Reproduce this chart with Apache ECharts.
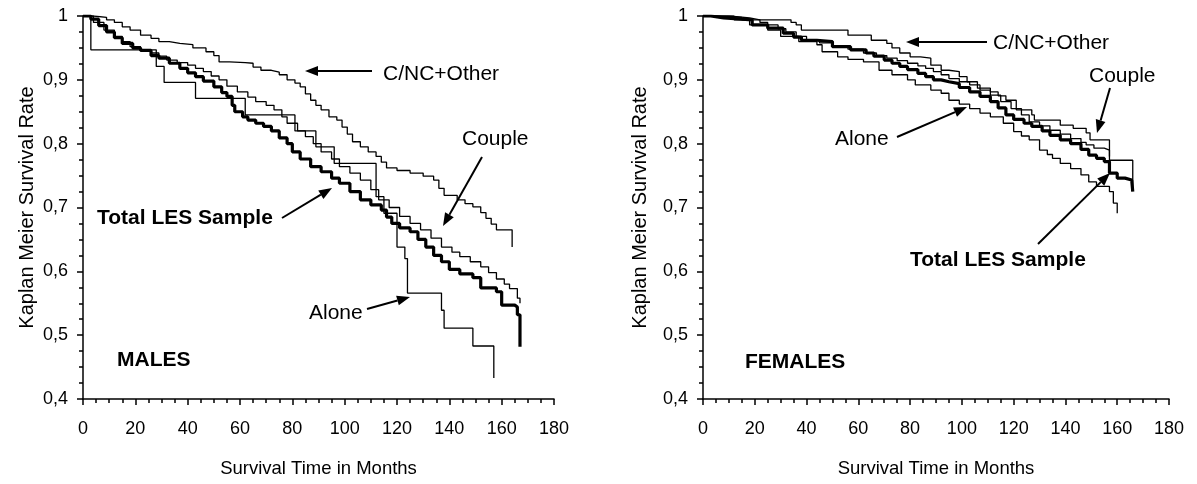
<!DOCTYPE html>
<html lang="en">
<head>
    <meta charset="UTF-8">
    <title>Kaplan Meier</title>
    <script type="text/javascript" src="https://cdn.jsdelivr.net/npm/echarts@6/dist/echarts.min.js"></script>
    <style>
        body { margin: 0; background: #fff; }
    </style>
</head>
<body>
<div id="main" style="width: 1197px;height:484px;"></div>
<script>
    // tick labels
    var monthTicks = [0, 20, 40, 60, 80, 100, 120, 140, 160, 180];
    var rateTicks = [0.4, 0.5, 0.6, 0.7, 0.8, 0.9, 1];

    // males, [month, survival]
    var malesCnc = [[0,1],[4,0.998],[9,0.994],[12,0.99],[15,0.983],[18,0.978],[22,0.970],[26,0.965],[29,0.96],[33,0.957],
        [37,0.955],[42,0.950],[47,0.944],[50,0.938],[52,0.928],[56,0.927],[62,0.926],[65,0.92],[68,0.915],[72,0.912],
        [75,0.908],[78,0.9],[81,0.895],[83,0.889],[85,0.878],[87,0.868],[89,0.86],[91,0.853],[94,0.842],[97,0.837],
        [99,0.826],[101,0.815],[103,0.803],[106,0.795],[109,0.787],[112,0.78],[114,0.771],[116,0.762],[120,0.758],
        [125,0.754],[130,0.749],[134,0.743],[136,0.73],[138,0.719],[143,0.712],[146,0.706],[149,0.701],[152,0.692],
        [154,0.683],[156,0.674],[158,0.665],[164,0.638]];
    var malesCouple = [[0,1],[4,0.99],[8,0.978],[12,0.968],[15,0.96],[18,0.952],[22,0.947],[26,0.942],[29,0.937],
        [32,0.931],[36,0.927],[40,0.923],[43,0.918],[46,0.913],[49,0.906],[52,0.9],[55,0.89],[59,0.881],[63,0.873],
        [66,0.866],[70,0.86],[73,0.853],[76,0.842],[78,0.832],[82,0.82],[85,0.811],[88,0.8],[91,0.787],[95,0.776],
        [98,0.764],[102,0.754],[106,0.743],[110,0.728],[113,0.712],[117,0.7],[121,0.686],[125,0.675],[129,0.665],
        [133,0.652],[137,0.638],[141,0.63],[144,0.623],[148,0.615],[152,0.607],[155,0.598],[158,0.588],[161,0.58],
        [163,0.573],[166,0.558],[167,0.55]];
    var malesTotal = [[0,1],[3,0.995],[6,0.985],[9,0.975],[12,0.966],[15,0.957],[19,0.950],[22,0.946],[26,0.938],
        [29,0.934],[33,0.926],[37,0.918],[40,0.911],[43,0.905],[46,0.898],[50,0.889],[53,0.88],[55,0.874],[57,0.86],
        [58,0.85],[61,0.842],[63,0.837],[66,0.832],[69,0.827],[72,0.82],[75,0.809],[78,0.8],[80,0.787],[83,0.776],
        [87,0.764],[91,0.756],[95,0.746],[98,0.738],[102,0.725],[106,0.712],[110,0.704],[114,0.696],[116,0.685],
        [118,0.675],[121,0.668],[125,0.662],[128,0.65],[131,0.638],[134,0.625],[137,0.615],[140,0.603],[144,0.596],
        [149,0.59],[152,0.574],[158,0.568],[160,0.547],[165,0.544],[166,0.532],[167,0.482]];
    var malesAlone = [[0,1],[3,0.947],[28,0.921],[31,0.896],[43,0.871],[62,0.845],[81,0.82],[89,0.795],[96,0.769],
        [112,0.717],[115,0.691],[120,0.638],[123,0.62],[124,0.566],[137,0.539],[138,0.511],[149,0.483],[157,0.433]];

    // females, [month, survival]
    var femalesCnc = [[0,1],[5,0.998],[15,0.994],[34,0.99],[36,0.986],[38,0.978],[56,0.970],[65,0.962],[71,0.957],
        [73,0.95],[76,0.942],[80,0.936],[84,0.934],[88,0.923],[92,0.915],[95,0.913],[99,0.905],[102,0.897],[106,0.887],
        [111,0.881],[114,0.875],[117,0.868],[121,0.853],[127,0.845],[128,0.837],[138,0.829],[143,0.824],[148,0.817],
        [149.5,0.806],[157,0.78]];
    var femalesCouple = [[0,1],[10,0.997],[18,0.994],[22,0.99],[25,0.986],[29,0.98],[32,0.975],[36,0.968],[40,0.963],
        [45,0.958],[50,0.953],[56,0.948],[62,0.942],[67,0.938],[71,0.934],[75,0.93],[79,0.926],[83,0.922],[86,0.918],
        [89,0.913],[92,0.908],[95,0.902],[99,0.897],[103,0.892],[107,0.884],[111,0.876],[115,0.866],[119,0.855],
        [123,0.845],[126,0.834],[130,0.828],[134,0.821],[138,0.815],[142,0.808],[146,0.802],[148,0.798],[151,0.793],
        [155,0.79],[157,0.774],[166,0.727]];
    var femalesTotal = [[0,1],[3,0.997],[8,0.995],[15,0.994],[19,0.986],[25,0.981],[31,0.973],[35,0.967],[38,0.962],
        [44,0.96],[50,0.952],[57,0.947],[63,0.942],[66,0.937],[70,0.931],[73,0.926],[76,0.921],[79,0.916],[83,0.91],
        [86,0.905],[89,0.9],[92,0.897],[95,0.894],[99,0.888],[103,0.881],[107,0.874],[111,0.866],[114,0.856],
        [117,0.845],[120,0.838],[124,0.832],[127,0.827],[131,0.82],[134,0.813],[138,0.806],[142,0.8],[146,0.791],
        [149,0.782],[152,0.777],[155,0.772],[157,0.754],[160,0.746],[163,0.743],[165.6,0.74],[166,0.725]];
    var femalesAlone = [[0,1],[12,0.994],[18,0.986],[25,0.978],[30,0.968],[37,0.96],[44,0.955],[46,0.944],[52,0.936],
        [56,0.932],[62,0.928],[68,0.915],[73,0.908],[79,0.9],[82,0.892],[88,0.884],[92,0.879],[95,0.868],[99,0.862],
        [103,0.855],[107,0.848],[111,0.842],[116,0.832],[120,0.819],[123,0.812],[126,0.806],[130,0.79],[133,0.783],
        [135,0.777],[138,0.769],[142,0.761],[146,0.751],[149,0.74],[152,0.733],[157,0.725],[158.5,0.707],[160,0.691]];

    var FONT = '"Liberation Sans", Arial, sans-serif';
    var myChart = echarts.init(document.getElementById('main'));

    function xAxisCfg(idx) {
        return {
            gridIndex: idx, type: 'value',
            min: monthTicks[0], max: monthTicks[monthTicks.length - 1], interval: 20,
            name: 'Survival Time in Months', nameLocation: 'middle', nameGap: 60,
            nameTextStyle: {fontFamily: FONT, fontSize: 18.5, color: '#000'},
            axisLine: {show: true, lineStyle: {color: '#000', width: 1.5}},
            axisTick: {show: true, inside: false, length: 6, lineStyle: {color: '#000', width: 1.5}},
            minorTick: {show: true, splitNumber: 4, length: 4, lineStyle: {color: '#000', width: 1.5}},
            axisLabel: {fontFamily: FONT, fontSize: 18, color: '#000', margin: 21},
            splitLine: {show: false}
        };
    }
    function yAxisCfg(idx, gap) {
        return {
            gridIndex: idx, type: 'value',
            min: rateTicks[0], max: rateTicks[rateTicks.length - 1], interval: 0.1,
            name: 'Kaplan Meier Survival Rate', nameLocation: 'middle', nameGap: gap,
            nameTextStyle: {fontFamily: FONT, fontSize: 20, color: '#000'},
            axisLine: {show: true, lineStyle: {color: '#000', width: 1.5}},
            axisTick: {show: true, inside: false, length: 6, lineStyle: {color: '#000', width: 1.5}},
            minorTick: {show: true, splitNumber: 4, length: 4, lineStyle: {color: '#000', width: 1.5}},
            axisLabel: {
                fontFamily: FONT, fontSize: 18, color: '#000', margin: 15,
                formatter: function (v) {
                    return v >= 1 ? '1' : v.toFixed(1).replace('.', ',');
                }
            },
            splitLine: {show: false}
        };
    }
    function km(data, idx, thick) {
        return {
            type: 'line', step: 'end', xAxisIndex: idx, yAxisIndex: idx,
            data: data, showSymbol: false, silent: true,
            lineStyle: {color: '#000', width: thick ? 3.2 : 1.3}
        };
    }
    function arrow(x1, y1, x2, y2) {
        var dx = x2 - x1, dy = y2 - y1, len = Math.sqrt(dx * dx + dy * dy);
        var ux = dx / len, uy = dy / len, hl = 13, hw = 5;
        var bx = x2 - ux * hl, by = y2 - uy * hl;
        return [{
            type: 'line', silent: true,
            shape: {x1: x1, y1: y1, x2: bx, y2: by},
            style: {stroke: '#000', lineWidth: 2}
        }, {
            type: 'polygon', silent: true,
            shape: {points: [[x2, y2], [bx - uy * hw, by + ux * hw], [bx + uy * hw, by - ux * hw]]},
            style: {fill: '#000'}
        }];
    }
    function label(text, x, y, bold) {
        return {
            type: 'text', silent: true, x: x, y: y,
            style: {
                text: text, fill: '#000', verticalAlign: 'middle',
                font: (bold ? 'bold ' : '') + '21px ' + FONT
            }
        };
    }

    var graphics = [
        label('C/NC+Other', 383, 74), label('Couple', 462, 139),
        label('Total LES Sample', 97, 218, true), label('Alone', 309, 313),
        label('MALES', 117, 360, true),
        label('C/NC+Other', 993, 43), label('Couple', 1089, 76),
        label('Alone', 835, 139), label('Total LES Sample', 910, 260, true),
        label('FEMALES', 745, 362, true)
    ].concat(
        arrow(372, 71, 305, 71),
        arrow(482, 157, 443, 226),
        arrow(282, 218, 332, 188),
        arrow(367, 309, 410, 297),
        arrow(987, 42, 906, 42),
        arrow(1110, 88, 1097, 133),
        arrow(897, 137, 967, 107),
        arrow(1038, 244, 1110, 173)
    );

    myChart.setOption({
        animation: false,
        grid: [
            {left: 83, top: 16, width: 471, height: 383},
            {left: 703, top: 16, width: 466, height: 383}
        ],
        xAxis: [xAxisCfg(0), xAxisCfg(1)],
        yAxis: [yAxisCfg(0, 46), yAxisCfg(1, 53)],
        series: [
            km(malesCnc, 0), km(malesCouple, 0), km(malesAlone, 0), km(malesTotal, 0, true),
            km(femalesCnc, 1), km(femalesCouple, 1), km(femalesAlone, 1), km(femalesTotal, 1, true)
        ],
        graphic: graphics
    });
</script>
</body>
</html>
